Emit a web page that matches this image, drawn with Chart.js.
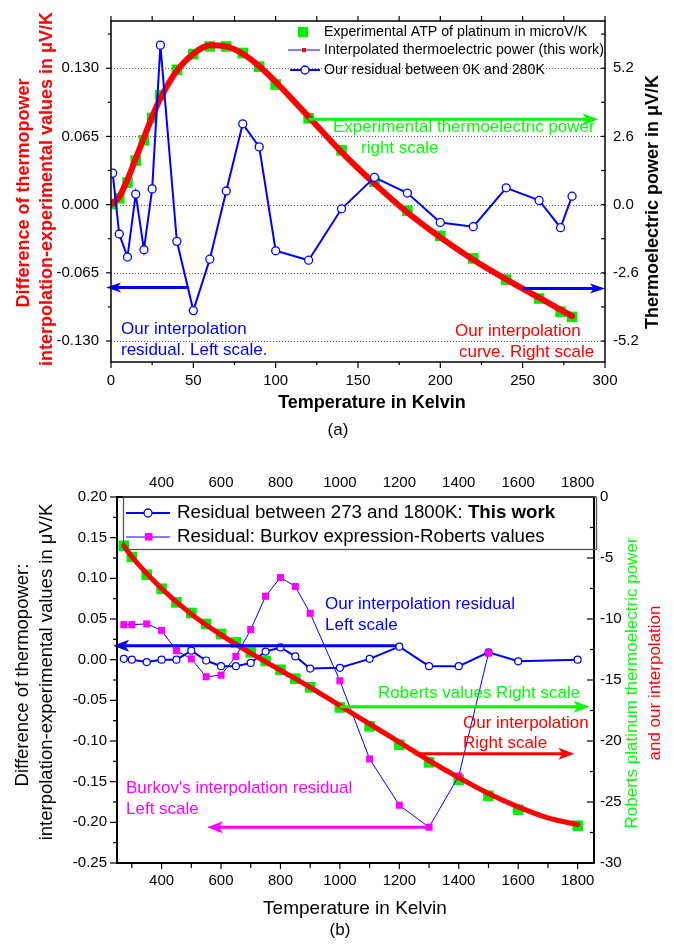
<!DOCTYPE html>
<html lang="en">
<head>
<meta charset="UTF-8" />
<title>Thermoelectric power of platinum</title>
<script src="https://cdn.jsdelivr.net/npm/chart.js"></script>
<style>
  html, body { margin: 0; padding: 0; background: #fff; }
  #wrap { position: relative; width: 674px; height: 944px; }
  canvas { position: absolute; left: 0; }
  #chartA { top: 0; }
  #chartB { top: 445px; }
</style>
</head>
<body>
<div id="wrap">
  <canvas id="chartA" width="674" height="445"></canvas>
  <canvas id="chartB" width="674" height="499"></canvas>
</div>

<script>
// ---------- panel (a): 0 - 280 K ----------
const tempA = [1, 5, 10, 15, 20, 25, 30, 40, 50, 60, 70, 80, 90, 100, 120, 140, 160, 180, 200, 220, 240, 260, 273, 280];
const atpA = [0.02, 0.24, 0.84, 1.68, 2.45, 3.30, 4.17, 5.14, 5.74, 6.03, 6.03, 5.78, 5.26, 4.58, 3.29, 2.07, 0.88, -0.23, -1.19, -2.05, -2.86, -3.58, -4.08, -4.28];
const residualA = [0.030, -0.028, -0.050, 0.010, -0.043, 0.015, 0.152, -0.035, -0.101, -0.052, 0.013, 0.077, 0.055, -0.044, -0.053, -0.004, 0.026, 0.011, -0.017, -0.021, 0.016, 0.004, -0.022, 0.008];
const fitTempA = [0, 5, 10, 15, 20, 25, 30, 40, 50, 60, 70, 80, 90, 100, 120, 140, 160, 180, 200, 220, 240, 260, 280];
const fitA = [0.0, 0.3, 0.95, 1.75, 2.55, 3.35, 4.05, 5.1, 5.75, 6.08, 6.03, 5.75, 5.28, 4.68, 3.35, 2.0, 0.8, -0.3, -1.25, -2.1, -2.85, -3.55, -4.25];

const xTicksA = [0, 50, 100, 150, 200, 250, 300];
const xMinorA = [25, 75, 125, 175, 225, 275];
const yTicksA = [-0.13, -0.065, 0, 0.065, 0.13];
const yMinorA = [-0.0975, -0.0325, 0.0325, 0.0975, 0.1625];
const y2TicksA = [-5.2, -2.6, 0, 2.6, 5.2];
const y2MinorA = [-3.9, -1.3, 1.3, 3.9, 6.5];

// ---------- panel (b): 273 - 1800 K ----------
const tempB = [273, 300, 350, 400, 450, 500, 550, 600, 650, 700, 750, 800, 850, 900, 1000, 1100, 1200, 1300, 1400, 1500, 1600, 1800];
const robertsB = [-4.0, -4.92, -6.37, -7.52, -8.64, -9.51, -10.41, -11.23, -11.92, -12.74, -13.44, -14.16, -14.89, -15.6, -17.25, -18.8, -20.3, -21.75, -23.17, -24.48, -25.63, -26.94];
const residualB = [0.001, 0.0, -0.003, 0.0, 0.0, 0.011, -0.001, -0.008, -0.008, -0.004, 0.010, 0.015, 0.004, -0.011, -0.010, 0.001, 0.016, -0.008, -0.008, 0.009, -0.002, 0.0];
const burkovTempB = [273, 300, 350, 400, 450, 500, 550, 600, 650, 700, 750, 800, 850, 900, 1000, 1100, 1200, 1300, 1400, 1500];
const burkovB = [0.043, 0.043, 0.044, 0.036, 0.011, 0.001, -0.021, -0.019, 0.004, 0.037, 0.078, 0.101, 0.090, 0.057, -0.026, -0.122, -0.179, -0.206, -0.143, 0.008];
const fitTempB = [273, 300, 400, 500, 600, 700, 800, 900, 1000, 1100, 1200, 1300, 1400, 1500, 1600, 1700, 1800];
const fitB = [-4.0, -4.9, -7.5, -9.6, -11.3, -12.8, -14.2, -15.6, -17.1, -18.6, -20.1, -21.6, -23.0, -24.3, -25.4, -26.3, -26.85];

const xTicksB = [400, 600, 800, 1000, 1200, 1400, 1600, 1800];
const xMinorB = [300, 500, 700, 900, 1100, 1300, 1500, 1700];
const yTicksB = [-0.25, -0.2, -0.15, -0.1, -0.05, 0, 0.05, 0.1, 0.15, 0.2];
const yMinorB = [-0.225, -0.175, -0.125, -0.075, -0.025, 0.025, 0.075, 0.125, 0.175];
const y2TicksB = [-30, -25, -20, -15, -10, -5, 0];
const y2MinorB = [-27.5, -22.5, -17.5, -12.5, -7.5, -2.5];

const FAMILY = "'Liberation Sans', Arial, Helvetica, sans-serif";
const GREEN = '#00ee00';
const RED = '#ff0000';
const BLUE = '#0000ff';
const MAGENTA = '#ff00ff';

const pts = (xs, ys) => xs.map((x, i) => ({ x: x, y: ys[i] }));
const font = (size, bold) => (bold ? 'bold ' : '') + size + 'px ' + FAMILY;

function label(ctx, str, x, y, size, color, opts) {
  opts = opts || {};
  ctx.save();
  ctx.font = font(size, opts.bold);
  ctx.fillStyle = color;
  ctx.textAlign = opts.align || 'left';
  ctx.textBaseline = 'middle';
  ctx.fillText(str, x, y);
  ctx.restore();
}

function vlabel(ctx, str, x, y, size, color, bold) {
  ctx.save();
  ctx.translate(x, y);
  ctx.rotate(-Math.PI / 2);
  ctx.font = font(size, bold);
  ctx.fillStyle = color;
  ctx.textAlign = 'center';
  ctx.textBaseline = 'middle';
  ctx.fillText(str, 0, 0);
  ctx.restore();
}

// horizontal arrow from x1 to x2 (tip), pixel coords
function arrow(ctx, x1, y, x2, color, lw, len, half) {
  const d = Math.sign(x2 - x1);
  ctx.save();
  ctx.strokeStyle = color;
  ctx.fillStyle = color;
  ctx.lineWidth = lw;
  ctx.beginPath();
  ctx.moveTo(x1, y);
  ctx.lineTo(x2 - d * len * 0.7, y);
  ctx.stroke();
  ctx.beginPath();
  ctx.moveTo(x2, y);
  ctx.lineTo(x2 - d * len, y - half);
  ctx.lineTo(x2 - d * len * 0.75, y);
  ctx.lineTo(x2 - d * len, y + half);
  ctx.closePath();
  ctx.fill();
  ctx.restore();
}

function arrowOn(chart, xFrom, xTo, yVal, yId, color, lw, len, half) {
  const sx = chart.scales.x, sy = chart.scales[yId];
  arrow(chart.ctx, sx.getPixelForValue(xFrom), sy.getPixelForValue(yVal), sx.getPixelForValue(xTo), color, lw, len, half);
}

// tick marks on one edge of the plot frame
function tickMarks(chart, scaleId, values, edge, len) {
  const ctx = chart.ctx, a = chart.chartArea, s = chart.scales[scaleId];
  values.forEach(v => {
    const p = s.getPixelForValue(v);
    ctx.beginPath();
    if (edge === 'bottom') { ctx.moveTo(p, a.bottom); ctx.lineTo(p, a.bottom + len); }
    if (edge === 'top') { ctx.moveTo(p, a.top); ctx.lineTo(p, a.top - len); }
    if (edge === 'left') { ctx.moveTo(a.left, p); ctx.lineTo(a.left - len, p); }
    if (edge === 'right') { ctx.moveTo(a.right, p); ctx.lineTo(a.right - len, p); }
    ctx.stroke();
  });
}

function frame(chart, lw) {
  const ctx = chart.ctx, a = chart.chartArea;
  ctx.save();
  ctx.strokeStyle = '#000';
  ctx.lineWidth = lw;
  ctx.strokeRect(a.left, a.top, a.right - a.left, a.bottom - a.top);
  ctx.restore();
}

function tickFont(size) {
  return { family: FAMILY, size: size };
}

const panelA = {
  id: 'panelA',
  beforeDatasetsDraw(chart) {
    const ctx = chart.ctx, a = chart.chartArea, s = chart.scales.y;
    ctx.save();
    ctx.strokeStyle = '#666';
    ctx.lineWidth = 1;
    ctx.setLineDash([1, 2]);
    yTicksA.forEach(v => {
      const p = Math.round(s.getPixelForValue(v)) + 0.5;
      ctx.beginPath();
      ctx.moveTo(a.left, p);
      ctx.lineTo(a.right, p);
      ctx.stroke();
    });
    ctx.restore();
  },
  afterDatasetsDraw(chart) {
    arrowOn(chart, 120, 296, 3.25, 'y2', '#00ff00', 3, 16, 6);
    arrowOn(chart, 47, -3, -0.079, 'y', BLUE, 3, 15, 5);
    arrowOn(chart, 250, 300, -3.2, 'y2', BLUE, 3, 15, 5);
  },
  afterDraw(chart) {
    const ctx = chart.ctx;
    frame(chart, 1.5);
    ctx.save();
    ctx.strokeStyle = '#000';
    ctx.lineWidth = 1.2;
    tickMarks(chart, 'x', xTicksA, 'bottom', 6);
    tickMarks(chart, 'x', xMinorA, 'bottom', 3);
    tickMarks(chart, 'x', xTicksA, 'top', 5);
    tickMarks(chart, 'x', xMinorA, 'top', 5);
    tickMarks(chart, 'y', yTicksA, 'left', 5);
    tickMarks(chart, 'y', yMinorA, 'left', 3);
    tickMarks(chart, 'y2', y2TicksA, 'right', 4);
    tickMarks(chart, 'y2', y2MinorA, 'right', 4);
    ctx.restore();

    // legend
    ctx.save();
    ctx.fillStyle = GREEN;
    ctx.fillRect(298, 27, 10, 10);
    ctx.strokeStyle = BLUE;
    ctx.lineWidth = 1;
    ctx.beginPath(); ctx.moveTo(288, 50); ctx.lineTo(320, 50); ctx.stroke();
    ctx.fillStyle = RED;
    ctx.fillRect(302, 48, 4, 4);
    ctx.lineWidth = 2;
    ctx.beginPath(); ctx.moveTo(290, 70); ctx.lineTo(320, 70); ctx.stroke();
    ctx.beginPath(); ctx.arc(305, 70, 4, 0, Math.PI * 2);
    ctx.fillStyle = '#fff'; ctx.fill();
    ctx.lineWidth = 1.3; ctx.stroke();
    ctx.restore();
    label(ctx, 'Experimental ATP of platinum in microV/K', 324, 32, 14.2, '#000');
    label(ctx, 'Interpolated thermoelectric power (this work)', 324, 50, 14.2, '#000');
    label(ctx, 'Our residual between 0K and 280K', 324, 70, 14.2, '#000');

    // notes inside the plot
    label(ctx, 'Experimental thermoelectric power', 333, 127, 17, '#00ff00');
    label(ctx, 'right scale', 361, 148, 17, '#00ff00');
    label(ctx, 'Our interpolation', 121, 329, 17, BLUE);
    label(ctx, 'residual. Left scale.', 121, 350, 17, BLUE);
    label(ctx, 'Our interpolation', 455, 331, 17, RED);
    label(ctx, 'curve. Right scale', 459, 352, 17, RED);

    // axis titles
    vlabel(ctx, 'Difference of thermopower', 24, 193, 18, RED, true);
    vlabel(ctx, 'interpolation-experimental values in \u03bcV/K', 47, 189, 18, RED, true);
    vlabel(ctx, 'Thermoelectric power in \u03bcV/K', 653, 202, 18, '#000', true);
    label(ctx, 'Temperature in Kelvin', 372, 403, 18, '#000', { bold: true, align: 'center' });
    label(ctx, '(a)', 338, 430, 17, '#000', { align: 'center' });
  }
};

const panelB = {
  id: 'panelB',
  afterDatasetsDraw(chart) {
    arrowOn(chart, 1190, 237, 0.0172, 'y', BLUE, 3, 16, 6);
    arrowOn(chart, 1000, 1840, -17.2, 'y2', '#00ff00', 3, 16, 6);
    arrowOn(chart, 1250, 1789, -21.05, 'y2', RED, 3, 16, 6);
    arrowOn(chart, 1300, 553, -0.206, 'y', MAGENTA, 3, 16, 6);
  },
  afterDraw(chart) {
    const ctx = chart.ctx;
    frame(chart, 2);
    ctx.save();
    ctx.strokeStyle = '#000';
    ctx.lineWidth = 1.2;
    tickMarks(chart, 'x', xTicksB, 'bottom', 6);
    tickMarks(chart, 'x', xMinorB, 'bottom', 5);
    tickMarks(chart, 'y', yTicksB, 'left', 7);
    tickMarks(chart, 'y', yMinorB, 'left', 4);
    tickMarks(chart, 'y2', y2TicksB, 'right', 7);
    tickMarks(chart, 'y2', y2MinorB, 'right', 4);
    ctx.restore();

    // legend box
    ctx.save();
    ctx.strokeStyle = '#555';
    ctx.lineWidth = 1.3;
    ctx.strokeRect(123.5, 52, 473, 52.5);
    ctx.strokeStyle = BLUE;
    ctx.lineWidth = 2;
    ctx.beginPath(); ctx.moveTo(126, 68); ctx.lineTo(170, 68); ctx.stroke();
    ctx.beginPath(); ctx.arc(148, 68, 4, 0, Math.PI * 2);
    ctx.fillStyle = '#fff'; ctx.fill();
    ctx.lineWidth = 1.3; ctx.stroke();
    ctx.lineWidth = 1;
    ctx.beginPath(); ctx.moveTo(126, 92); ctx.lineTo(170, 92); ctx.stroke();
    ctx.fillStyle = MAGENTA;
    ctx.fillRect(145, 88, 7.5, 7.5);
    ctx.restore();
    ctx.save();
    ctx.font = font(18.7);
    const lead = 'Residual between 273 and 1800K: ';
    const w = ctx.measureText(lead).width;
    ctx.restore();
    label(ctx, lead, 177, 68, 18.7, '#000');
    label(ctx, 'This work', 177 + w, 68, 18.7, '#000', { bold: true });
    label(ctx, 'Residual: Burkov expression-Roberts values', 177, 92, 18.7, '#000');

    // notes inside the plot
    label(ctx, 'Our interpolation residual', 325, 159, 17, BLUE);
    label(ctx, 'Left scale', 325, 180, 17, BLUE);
    label(ctx, 'Roberts values Right scale', 378, 248, 17, '#00ff00');
    label(ctx, 'Our interpolation', 463, 278, 17, RED);
    label(ctx, 'Right scale', 463, 298, 17, RED);
    label(ctx, "Burkov's interpolation residual", 126, 343, 17, MAGENTA);
    label(ctx, 'Left scale', 126, 364, 17, MAGENTA);

    // axis titles
    vlabel(ctx, 'Difference of thermopower:', 23, 230, 18.5, '#000', false);
    vlabel(ctx, 'interpolation-experimental values in \u03bcV/K', 47, 227, 18.5, '#000', false);
    vlabel(ctx, 'Roberts platinum thermoelectric power', 632, 238, 17, '#00ff00', false);
    vlabel(ctx, 'and our interpolation', 655, 238, 17, RED, false);
    label(ctx, 'Temperature in Kelvin', 355, 464, 19, '#000', { align: 'center' });
    label(ctx, '(b)', 340, 485, 17, '#000', { align: 'center' });
  }
};

const plainAxis = {
  grid: { display: false, drawTicks: false },
  border: { display: false }
};

new Chart(document.getElementById('chartA'), {
  type: 'line',
  data: {
    datasets: [
      {
        label: 'Experimental ATP of platinum in microV/K',
        data: pts(tempA, atpA),
        yAxisID: 'y2',
        showLine: false,
        pointStyle: 'rect',
        pointRadius: 7.5,
        pointBackgroundColor: GREEN,
        pointBorderWidth: 0,
        order: 3
      },
      {
        label: 'Interpolated thermoelectric power (this work)',
        data: pts(fitTempA, fitA),
        yAxisID: 'y2',
        borderColor: RED,
        borderWidth: 6,
        borderCapStyle: 'round',
        pointRadius: 0,
        cubicInterpolationMode: 'monotone',
        order: 2
      },
      {
        label: 'Our residual between 0K and 280K',
        data: pts(tempA, residualA),
        yAxisID: 'y',
        borderColor: BLUE,
        borderWidth: 2,
        pointRadius: 4,
        pointBackgroundColor: '#fff',
        pointBorderColor: BLUE,
        pointBorderWidth: 1.3,
        order: 1
      }
    ]
  },
  options: {
    responsive: false,
    animation: false,
    devicePixelRatio: 1,
    layout: { padding: { top: 17 } },
    plugins: { legend: { display: false }, tooltip: { enabled: false } },
    scales: {
      x: Object.assign({}, plainAxis, {
        type: 'linear', min: 0, max: 300,
        afterBuildTicks: s => { s.ticks = xTicksA.map(v => ({ value: v })); },
        afterFit: s => { s.height = 83; },
        ticks: { font: tickFont(15), color: '#000', padding: 10, autoSkip: false, maxRotation: 0, callback: v => String(v) }
      }),
      y: Object.assign({}, plainAxis, {
        position: 'left', min: -0.15, max: 0.175,
        afterBuildTicks: s => { s.ticks = yTicksA.map(v => ({ value: v })); },
        afterFit: s => { s.width = 111; },
        ticks: { font: tickFont(15), color: '#000', padding: 12, callback: v => v.toFixed(3) }
      }),
      y2: Object.assign({}, plainAxis, {
        position: 'right', min: -6, max: 7,
        afterBuildTicks: s => { s.ticks = y2TicksA.map(v => ({ value: v })); },
        afterFit: s => { s.width = 69; },
        ticks: { font: tickFont(15), color: '#000', padding: 8, callback: v => v.toFixed(1) }
      })
    }
  },
  plugins: [panelA]
});

new Chart(document.getElementById('chartB'), {
  type: 'line',
  data: {
    datasets: [
      {
        label: 'Roberts values',
        data: pts(tempB, robertsB),
        yAxisID: 'y2',
        showLine: false,
        pointStyle: 'rect',
        pointRadius: 7.5,
        pointBackgroundColor: GREEN,
        pointBorderWidth: 0,
        order: 4
      },
      {
        label: 'Residual between 273 and 1800K: This work',
        data: pts(tempB, residualB),
        yAxisID: 'y',
        borderColor: BLUE,
        borderWidth: 2,
        pointRadius: 3.5,
        pointBackgroundColor: '#fff',
        pointBorderColor: BLUE,
        pointBorderWidth: 1.2,
        order: 3
      },
      {
        label: 'Residual: Burkov expression-Roberts values',
        data: pts(burkovTempB, burkovB),
        yAxisID: 'y',
        borderColor: BLUE,
        borderWidth: 1,
        pointStyle: 'rect',
        pointRadius: 5,
        pointBackgroundColor: MAGENTA,
        pointBorderWidth: 0,
        order: 2
      },
      {
        label: 'Our interpolation',
        data: pts(fitTempB, fitB),
        yAxisID: 'y2',
        borderColor: RED,
        borderWidth: 5,
        borderCapStyle: 'round',
        pointRadius: 0,
        cubicInterpolationMode: 'monotone',
        order: 1
      }
    ]
  },
  options: {
    responsive: false,
    animation: false,
    devicePixelRatio: 1,
    plugins: { legend: { display: false }, tooltip: { enabled: false } },
    scales: {
      x: Object.assign({}, plainAxis, {
        type: 'linear', min: 250, max: 1855,
        afterBuildTicks: s => { s.ticks = xTicksB.map(v => ({ value: v })); },
        afterFit: s => { s.height = 81; },
        ticks: { font: tickFont(15), color: '#000', padding: 9, autoSkip: false, maxRotation: 0, callback: v => String(v) }
      }),
      xTop: Object.assign({}, plainAxis, {
        type: 'linear', position: 'top', min: 250, max: 1855,
        afterBuildTicks: s => { s.ticks = xTicksB.map(v => ({ value: v })); },
        afterFit: s => { s.height = 52; },
        ticks: { font: tickFont(15), color: '#000', padding: 5, autoSkip: false, maxRotation: 0, callback: v => String(v) }
      }),
      y: Object.assign({}, plainAxis, {
        position: 'left', min: -0.25, max: 0.2,
        afterBuildTicks: s => { s.ticks = yTicksB.map(v => ({ value: v })); },
        afterFit: s => { s.width = 117; },
        ticks: { font: tickFont(15), color: '#000', padding: 10, callback: v => v.toFixed(2) }
      }),
      y2: Object.assign({}, plainAxis, {
        position: 'right', min: -30, max: 0,
        afterBuildTicks: s => { s.ticks = y2TicksB.map(v => ({ value: v })); },
        afterFit: s => { s.width = 80; },
        ticks: { font: tickFont(15), color: '#000', padding: 6, callback: v => String(v) }
      })
    }
  },
  plugins: [panelB]
});
</script>
</body>
</html>
